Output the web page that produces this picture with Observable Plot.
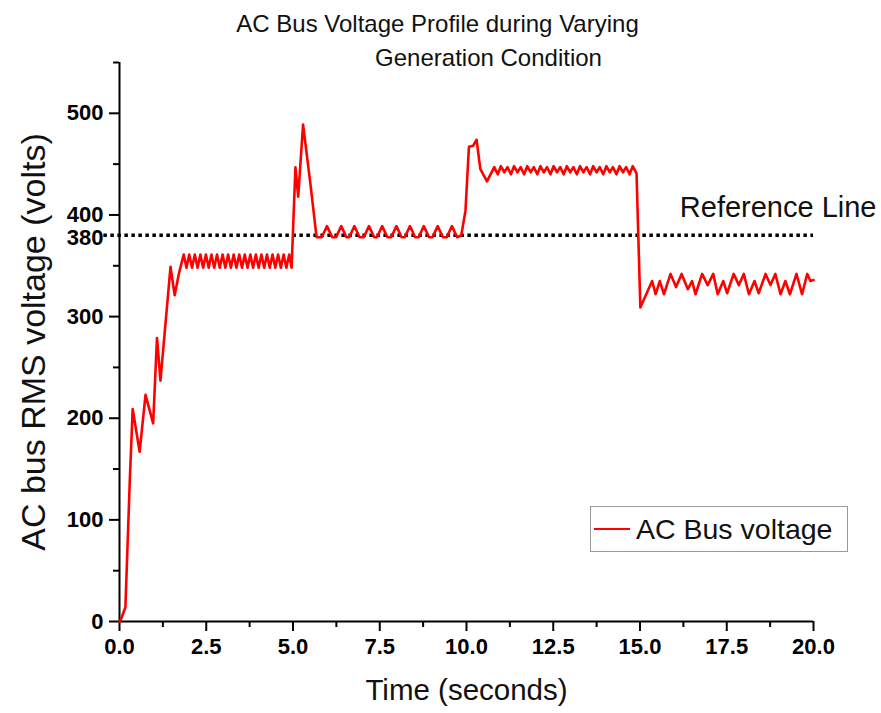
<!DOCTYPE html>
<html>
<head>
<meta charset="utf-8">
<script src="https://cdn.jsdelivr.net/npm/d3@7"></script>
<script src="https://cdn.jsdelivr.net/npm/@observablehq/plot@0.6"></script>
<style>
  html, body { margin: 0; padding: 0; background: #fff; }
  #wrap { position: relative; width: 881px; height: 713px; font-family: "Liberation Sans", Arial, sans-serif; }
  #legend { position: absolute; left: 590px; top: 506px; width: 258px; height: 46px; border: 1.5px solid #9a9a9a; background: #fff; box-sizing: border-box; }
  #legend .swatch { position: absolute; left: 3px; top: 21px; width: 36px; height: 0; border-top: 2.5px solid #ff0000; }
  #legend .lab { position: absolute; left: 45px; top: 6px; font-size: 28.5px; line-height: 32px; color: #111; white-space: nowrap; }
</style>
</head>
<body>
<div id="wrap"></div>
<script>
// ---- data ----
const titleLines = ["AC Bus Voltage Profile during Varying", "Generation Condition"];
const xLabel = "Time (seconds)";
const yLabel = "AC bus RMS voltage (volts)";
const seriesName = "AC Bus voltage";
const refLabel = "Reference Line";
const refValue = [380];
const xTicks = [0, 2.5, 5, 7.5, 10, 12.5, 15, 17.5, 20];
const xMinorTicks = [1.25, 3.75, 6.25, 8.75, 11.25, 13.75, 16.25, 18.75];
const yTicks = [0, 100, 200, 300, 400, 500];
const yMinorTicks = [50, 150, 250, 350, 450, 550];

const time = [
  0, 0.03, 0.17, 0.30, 0.38, 0.58, 0.75, 0.97, 1.08, 1.18, 1.47, 1.59, 1.71,
  1.85, 1.93, 2.01, 2.09, 2.17, 2.25, 2.33, 2.41, 2.49, 2.57, 2.65, 2.73, 2.81, 2.89,
  2.97, 3.05, 3.13, 3.21, 3.29, 3.37, 3.45, 3.53, 3.61, 3.69, 3.77, 3.85, 3.93, 4.01,
  4.09, 4.17, 4.25, 4.33, 4.41, 4.49, 4.57, 4.65, 4.73, 4.81, 4.89, 4.96,
  5.07, 5.15, 5.29, 5.50, 5.68,
  5.83, 5.98, 6.13, 6.24, 6.39, 6.54, 6.62, 6.77, 6.92, 7.04, 7.19, 7.34, 7.42, 7.57,
  7.72, 7.83, 7.98, 8.13, 8.22, 8.37, 8.52, 8.62, 8.77, 8.92, 9.02, 9.17, 9.32, 9.43,
  9.58, 9.73, 9.85,
  9.97, 10.07, 10.19, 10.29, 10.40, 10.59,
  10.80, 10.90, 10.99, 11.09, 11.18, 11.28, 11.37, 11.47, 11.56, 11.66, 11.75, 11.85,
  11.94, 12.04, 12.13, 12.23, 12.32, 12.42, 12.51, 12.61, 12.70, 12.80, 12.89, 12.99,
  13.08, 13.18, 13.27, 13.37, 13.46, 13.56, 13.65, 13.75, 13.84, 13.94, 14.03, 14.13,
  14.22, 14.32, 14.41, 14.51, 14.60, 14.70, 14.79, 14.90,
  15.01, 15.35, 15.45, 15.57, 15.69, 15.88, 16.04, 16.20, 16.38, 16.50, 16.60, 16.79,
  16.95, 17.11, 17.24, 17.40, 17.51, 17.70, 17.85, 17.99, 18.14, 18.30, 18.42, 18.62,
  18.76, 18.90, 19.05, 19.19, 19.32, 19.51, 19.67, 19.82, 19.91, 20.0
];
const voltage = [
  0, 1, 14, 142, 209, 167, 223, 195, 279, 237, 349, 321, 342,
  361, 348, 361, 348, 361, 348, 361, 348, 361, 348, 361, 348, 361, 348,
  361, 348, 361, 348, 361, 348, 361, 348, 361, 348, 361, 348, 361, 348,
  361, 348, 361, 348, 361, 348, 361, 348, 361, 348, 361, 348,
  447, 418, 489, 431, 378,
  378, 389, 378, 378, 389, 378, 378, 389, 378, 378, 389, 378, 378, 389,
  378, 378, 389, 378, 378, 389, 378, 378, 389, 378, 378, 389, 378, 378,
  389, 378, 380,
  404, 467, 468, 474, 445, 433,
  447, 440, 448, 442, 447, 440, 448, 442, 447, 440, 448, 442,
  447, 440, 448, 442, 447, 440, 448, 442, 447, 440, 448, 442,
  447, 440, 448, 442, 447, 440, 448, 442, 447, 440, 448, 442,
  447, 440, 448, 442, 447, 440, 448, 441,
  309, 335, 322, 335, 322, 342, 329, 342, 327, 335, 322, 342,
  331, 342, 322, 335, 323, 342, 331, 342, 322, 335, 323, 342,
  331, 342, 322, 335, 322, 342, 322, 342, 335, 336
];

const data = time.map((t, i) => ({t, v: voltage[i]}));
const font = "'Liberation Sans', Arial, sans-serif";

const chart = Plot.plot({
  width: 881,
  height: 713,
  marginTop: 62,
  marginLeft: 119,
  marginRight: 68,
  marginBottom: 92,
  style: {fontFamily: font, background: "#fff", color: "#000", overflow: "visible"},
  x: {domain: [0, 20]},
  y: {domain: [0, 550]},
  marks: [
    Plot.axisX(xTicks, {tickSize: 10, tickPadding: 7, strokeWidth: 2, fontSize: 22, fontWeight: "bold", tickFormat: d => d.toFixed(1), label: null}),
    Plot.axisX(xMinorTicks, {tickSize: 6, strokeWidth: 2, tickFormat: () => "", label: null}),
    Plot.axisY(yTicks, {tickSize: 10, tickPadding: 6, strokeWidth: 2, fontSize: 22, fontWeight: "bold", label: null}),
    Plot.axisY(yMinorTicks, {tickSize: 6, strokeWidth: 2, tickFormat: () => "", label: null}),
    Plot.axisY(refValue, {tickSize: 0, tickPadding: 16, fontSize: 22, fontWeight: "bold", label: null, dy: 3}),
    Plot.ruleX([0], {stroke: "#000", strokeWidth: 2}),
    Plot.ruleY([0], {stroke: "#000", strokeWidth: 2}),
    Plot.ruleY(refValue, {x1: -0.45, x2: 20, stroke: "#000", strokeWidth: 3.5, strokeDasharray: "3.5,3.5", clip: false}),
    Plot.line(data, {x: "t", y: "v", stroke: "#ff0000", strokeWidth: 2.6}),
    Plot.text(refValue, {y: d => d, frameAnchor: "right", text: () => refLabel, textAnchor: "end", dx: 63, dy: -28, fontSize: 29, fill: "#111"}),
    Plot.text([xLabel], {frameAnchor: "bottom", lineAnchor: "middle", dy: 69, fontSize: 29.5, fill: "#111"}),
    Plot.text([yLabel], {frameAnchor: "left", textAnchor: "middle", lineAnchor: "middle", rotate: -90, dx: -85, fontSize: 34, fill: "#111"}),
    Plot.text([titleLines[0]], {frameAnchor: "top", lineAnchor: "middle", dx: -29, dy: -38, fontSize: 24, fill: "#111"}),
    Plot.text([titleLines[1]], {frameAnchor: "top", lineAnchor: "middle", dx: 22, dy: -4, fontSize: 24, fill: "#111"})
  ]
});

const wrap = document.getElementById("wrap");
wrap.appendChild(chart);
const legend = document.createElement("div");
legend.id = "legend";
legend.innerHTML = '<div class="swatch"></div>';
const lab = document.createElement("div");
lab.className = "lab";
lab.textContent = seriesName;
legend.appendChild(lab);
wrap.appendChild(legend);
</script>
</body>
</html>
